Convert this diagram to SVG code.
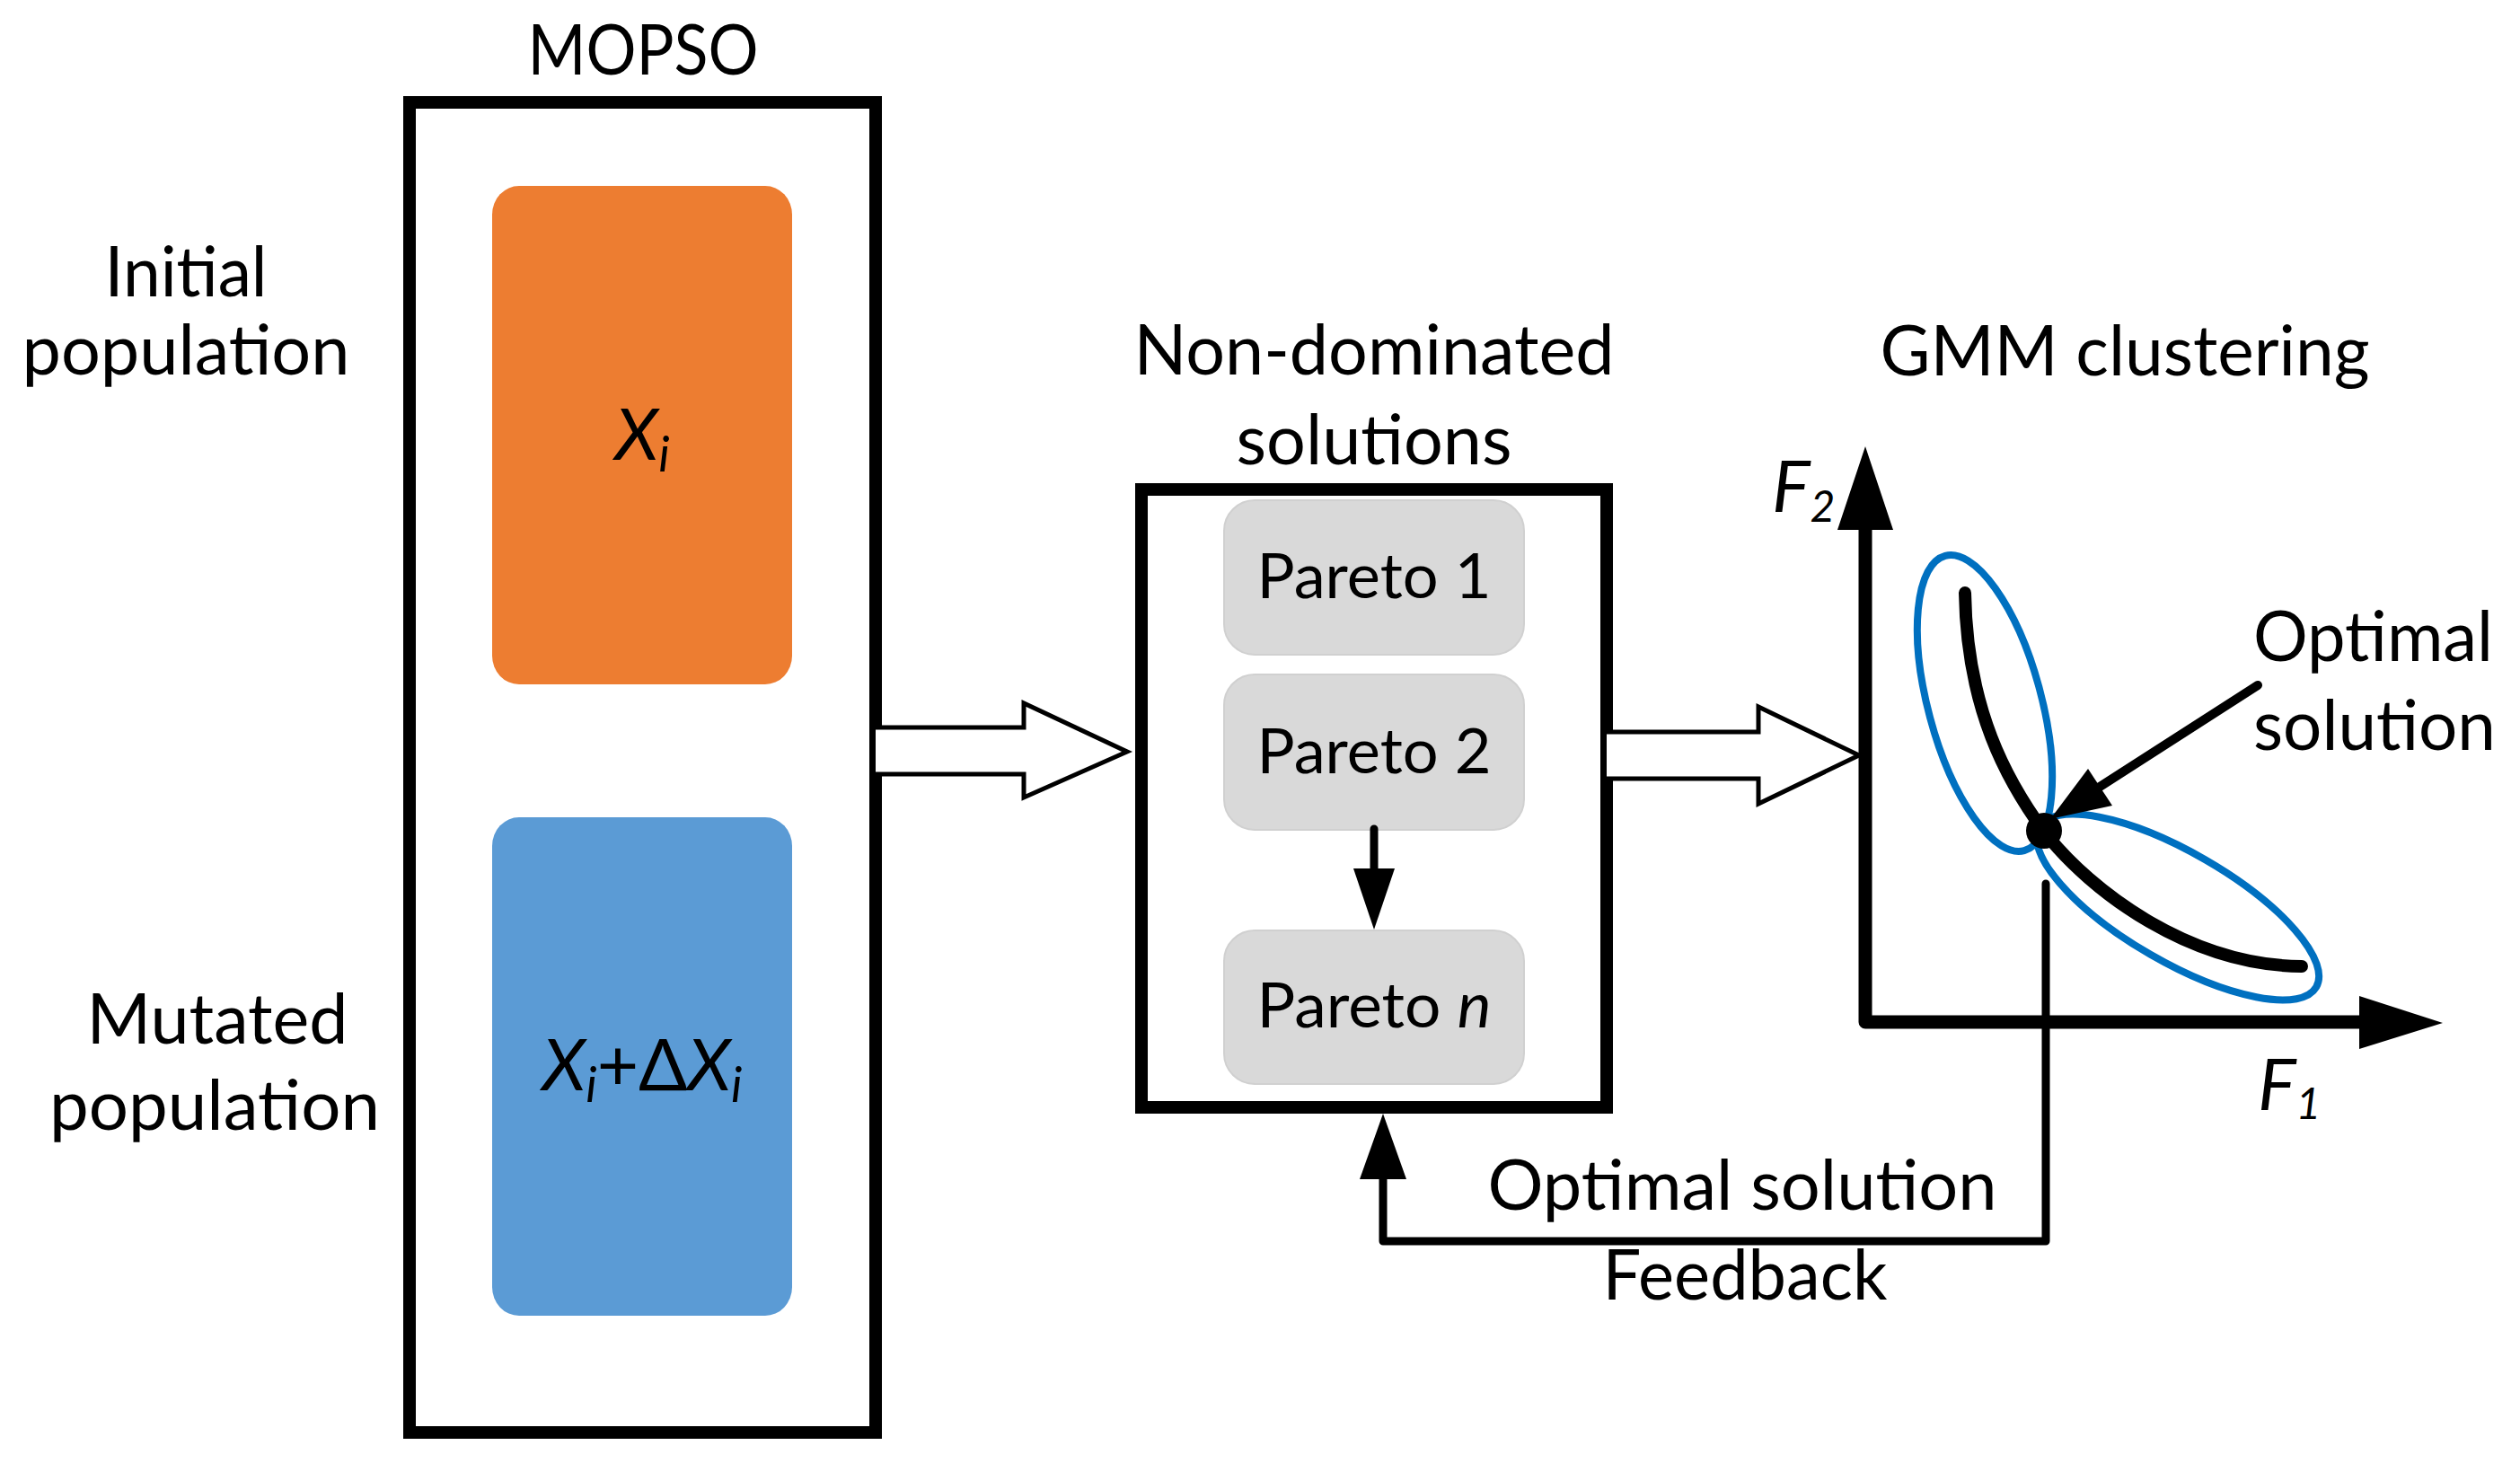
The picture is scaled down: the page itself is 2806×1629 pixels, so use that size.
<svg xmlns="http://www.w3.org/2000/svg" width="2806" height="1629" viewBox="0 0 2806 1629">
<style>
.t{font-family:Lato,"Liberation Sans",sans-serif;font-size:77px;fill:#000}
.p{font-family:Lato,"Liberation Sans",sans-serif;font-size:69px;fill:#000}
.m{font-family:Lato,"Liberation Sans",sans-serif;font-size:80px;font-style:italic;fill:#000}
.frame{fill:none;stroke:#000;stroke-width:14}
.pareto{fill:#D9D9D9;stroke:#d0d0d0;stroke-width:2}
.hollow{fill:#fff;stroke:#000;stroke-width:5;stroke-linejoin:miter}
.ln{fill:none;stroke:#000;stroke-linecap:round;stroke-linejoin:round}
.ell{fill:none;stroke:#0070C0;stroke-width:8}
</style>
<rect width="2806" height="1629" fill="#fff"/>

<g id="labels-left">
<text class="t" x="207" y="330" text-anchor="middle" textLength="181" lengthAdjust="spacingAndGlyphs">Initial</text>
<text class="t" x="207" y="417" text-anchor="middle" textLength="365" lengthAdjust="spacingAndGlyphs">population</text>
<text class="t" x="242" y="1162" text-anchor="middle" textLength="291" lengthAdjust="spacingAndGlyphs">Mutated</text>
<text class="t" x="239" y="1258" text-anchor="middle" textLength="368" lengthAdjust="spacingAndGlyphs">population</text>
</g>

<g id="mopso">
<text class="t" x="716" y="83" text-anchor="middle" textLength="257" lengthAdjust="spacingAndGlyphs">MOPSO</text>
<rect class="frame" x="456" y="114" width="519" height="1481"/>
</g>

<g id="initial-pop">
<rect x="548" y="207" width="334" height="555" rx="30" ry="32" fill="#ED7D31"/>
<text class="m" x="715" y="512" text-anchor="middle">X<tspan font-size="54" dy="13">i</tspan></text>
</g>

<g id="mutated-pop">
<rect x="548" y="910" width="334" height="555" rx="30" ry="32" fill="#5B9BD5"/>
<text class="m" x="715" y="1214" text-anchor="middle">X<tspan font-size="54" dy="13">i</tspan><tspan dy="-13" font-style="normal">+Δ</tspan>X<tspan font-size="54" dy="13">i</tspan></text>
</g>

<g id="non-dominated">
<text class="t" x="1530" y="417" text-anchor="middle" textLength="535" lengthAdjust="spacingAndGlyphs">Non-dominated</text>
<text class="t" x="1530" y="517" text-anchor="middle" textLength="307" lengthAdjust="spacingAndGlyphs">solutions</text>
<rect class="frame" x="1271" y="545" width="518" height="688"/>
</g>

<g id="pareto1">
<rect class="pareto" x="1363" y="557" width="334" height="172" rx="34"/>
<text class="p" x="1530" y="666" text-anchor="middle" textLength="261" lengthAdjust="spacingAndGlyphs">Pareto 1</text>
</g>
<g id="pareto2">
<rect class="pareto" x="1363" y="751" width="334" height="173" rx="34"/>
<text class="p" x="1530" y="861" text-anchor="middle" textLength="261" lengthAdjust="spacingAndGlyphs">Pareto 2</text>
</g>
<g id="paretoN">
<rect class="pareto" x="1363" y="1036" width="334" height="171" rx="34"/>
<text class="p" x="1530" y="1144" text-anchor="middle" textLength="261" lengthAdjust="spacingAndGlyphs">Pareto <tspan font-style="italic">n</tspan></text>
</g>

<g id="gmm">
<text class="t" x="2366" y="418" text-anchor="middle" textLength="545" lengthAdjust="spacingAndGlyphs">GMM clustering</text>
<path class="ln" d="M2077,590 V1138 H2630" stroke-width="15"/>
<polygon points="2046,590 2108,590 2077,497" fill="#000"/>
<polygon points="2627,1109 2627,1168 2720,1139" fill="#000"/>
<text class="m" x="1973" y="570" font-size="72">F<tspan font-size="48" dy="11">2</tspan></text>
<text class="m" x="2514" y="1236" font-size="72">F<tspan font-size="48" dy="10">1</tspan></text>
<ellipse class="ell" cx="2210" cy="783" rx="63" ry="170" transform="rotate(-15 2210 783)"/>
<ellipse class="ell" cx="2425" cy="1010" rx="178" ry="61" transform="rotate(30 2425 1010)"/>
<path class="ln" d="M2188,660 C2190,790 2235,870 2276,926 C2330,995 2440,1075 2563,1076" stroke-width="14"/>
<circle cx="2276" cy="925" r="20" fill="#000"/>
<text class="t" x="2509" y="736" textLength="267" lengthAdjust="spacingAndGlyphs">Optimal</text>
<text class="t" x="2509" y="835" textLength="270" lengthAdjust="spacingAndGlyphs">solution</text>
</g>

<g id="connectors">
<path class="hollow" d="M975,810 H1140 V783 L1255,837 L1140,888 V862 H975"/>
<path class="hollow" d="M1789,815 H1958 V787 L2070,841 L1958,895 V867 H1789"/>
<line class="ln" x1="1530" y1="923" x2="1530" y2="972" stroke-width="9"/>
<polygon points="1507,967 1553,967 1530,1035" fill="#000"/>
<line class="ln" x1="2514" y1="763" x2="2335" y2="878" stroke-width="10"/>
<polygon points="2283,912 2325,856 2352,897" fill="#000"/>
<path class="ln" d="M2278,984 V1382 H1540 V1310" stroke-width="9"/>
<polygon points="1514,1313 1566,1313 1540,1240" fill="#000"/>
<text class="t" x="1940" y="1347" text-anchor="middle" textLength="567" lengthAdjust="spacingAndGlyphs">Optimal solution</text>
<text class="t" x="1943" y="1447" text-anchor="middle" textLength="317" lengthAdjust="spacingAndGlyphs">Feedback</text>
</g>
</svg>
